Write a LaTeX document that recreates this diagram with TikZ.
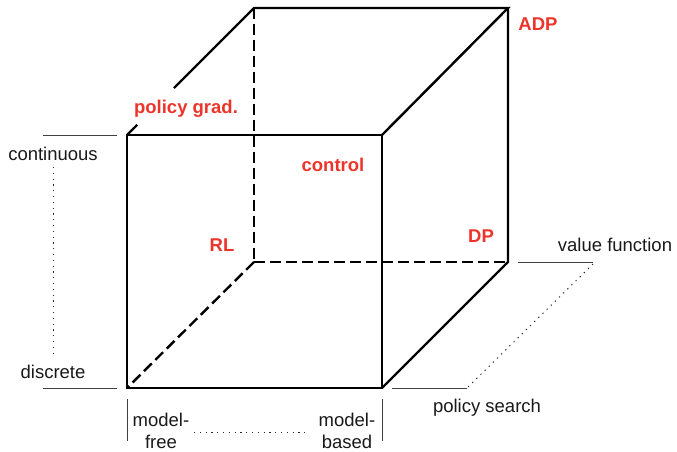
\documentclass[tikz,border=0pt]{standalone}
\usepackage{fontspec}
\setmainfont{Liberation Sans}
\usetikzlibrary{calc}
\definecolor{lab}{RGB}{236,52,42}
\begin{document}
\begin{tikzpicture}[x=1pt,y=-1pt,
  edge/.style={line width=2.4pt, line join=miter},
  hid/.style={line width=2.4pt, dash pattern=on 11pt off 5pt},
  tick/.style={line width=1pt, black!75},
  dots/.style={line width=1pt, black!85, dash pattern=on 1.2pt off 4.6pt},
  txt/.style={inner sep=0pt, font=\fontsize{18.5}{22}\selectfont, text=black!90},
  red/.style={inner sep=0pt, font=\fontsize{18.5}{22}\selectfont\bfseries, text=lab}]
\useasboundingbox (0,0) rectangle (677,452);
% cube corners
\coordinate (ftl) at (127,135);
\coordinate (ftr) at (382,135);
\coordinate (fbl) at (127,388);
\coordinate (fbr) at (382,388);
\coordinate (btl) at (254,8);
\coordinate (btr) at (508,8);
\coordinate (bbl) at (254,262);
\coordinate (bbr) at (508,262);
\coordinate (p1) at ($(ftl)!0.08!(btl)$);
\coordinate (p2) at ($(ftl)!0.37!(btl)$);
% hidden edges
\draw[hid] (btl) -- (bbl);
\draw[hid] (bbl) -- (bbr);
\draw[hid] (bbl) -- (fbl);
% visible edges
\draw[edge] (ftl) -- (ftr) -- (fbr) -- (fbl) -- cycle;
\draw[edge] (p2) -- (btl) -- (btr) -- (ftr);
\draw[edge] (btr) -- (bbr) -- (fbr);
\draw[edge] (ftl) -- (p1);
% red labels
\node[red] (pg) at (186,109) {policy grad.};
\node[red] (ctl) at (333,165) {control};
\node[red] (rl) at (222,245) {RL};
\node[red] (dp) at (481,236) {DP};
\node[red] (adp) at (538,24) {ADP};
% left axis
\coordinate (lt1) at (43,135); \coordinate (lt2) at (117,135);
\coordinate (lb1) at (43,388); \coordinate (lb2) at (117,388);
\draw[tick] (lt1) -- (lt2);
\draw[tick] (lb1) -- (lb2);
\node[txt] (cont) at (53,154) {continuous};
\node[txt] (disc) at (53,372) {discrete};
\draw[dots] ([yshift=-6pt]cont.south) -- ([yshift=8pt]disc.north);
% bottom axis
\coordinate (bt1) at (127,399); \coordinate (bt2) at (127,441);
\coordinate (bt3) at (382,399); \coordinate (bt4) at (382,441);
\draw[tick] (bt1) -- (bt2);
\draw[tick] (bt3) -- (bt4);
\node[txt, align=center] (mf) at (161,431) {model-\\free};
\node[txt, align=center] (mb) at (347,431) {model-\\based};
\coordinate (d1) at (194,432); \coordinate (d2) at (308,432);
\draw[dots] (d1) -- (d2);
% right axis
\coordinate (rt1) at (518,262); \coordinate (rt2) at (593,262);
\coordinate (rb1) at (392,388); \coordinate (rb2) at (467,388);
\draw[tick] (rt1) -- (rt2);
\draw[tick] (rb1) -- (rb2);
\node[txt] (vf) at (615,245) {value function};
\node[txt] (ps) at (487,408) {policy search};
\draw[dots] ([shift={(0,2)}]rt2) -- (rb2);
\end{tikzpicture}
\end{document}
